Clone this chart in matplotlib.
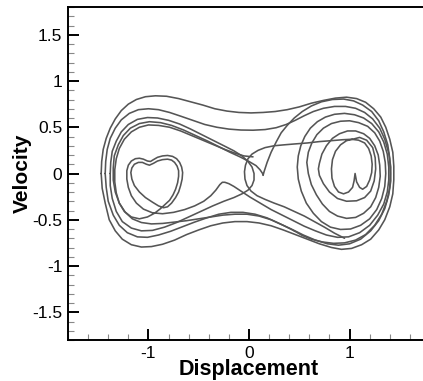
import matplotlib
matplotlib.use('Agg')
import matplotlib.pyplot as plt
from matplotlib.ticker import MultipleLocator, FormatStrFormatter

plt.rcParams['font.family'] = ['Liberation Sans', 'DejaVu Sans']
plt.rcParams['axes.unicode_minus'] = False

# phase trajectory, strand by strand, as (displacement, velocity)
outer = [(-1.47, 0.0), (-1.465, 0.13), (-1.45, 0.26), (-1.42, 0.38), (-1.38, 0.49), (-1.33, 0.59),
         (-1.27, 0.68), (-1.20, 0.75), (-1.12, 0.80), (-1.03, 0.83), (-0.93, 0.84), (-0.82, 0.835),
         (-0.70, 0.81), (-0.58, 0.775), (-0.46, 0.74), (-0.34, 0.70), (-0.22, 0.675), (-0.10, 0.66),
         (0.02, 0.655), (0.14, 0.66), (0.26, 0.67), (0.38, 0.69), (0.50, 0.72), (0.62, 0.76), (0.74, 0.79),
         (0.86, 0.815), (0.97, 0.825), (1.07, 0.81), (1.16, 0.77), (1.24, 0.70), (1.31, 0.61), (1.36, 0.50),
         (1.40, 0.37), (1.43, 0.23), (1.44, 0.08), (1.44, -0.07), (1.43, -0.22), (1.40, -0.36), (1.35, -0.50),
         (1.29, -0.61), (1.21, -0.71), (1.12, -0.77), (1.02, -0.81), (0.92, -0.82), (0.82, -0.80),
         (0.70, -0.76), (0.58, -0.71), (0.46, -0.66), (0.34, -0.61), (0.22, -0.565), (0.10, -0.535),
         (-0.02, -0.52), (-0.14, -0.52), (-0.26, -0.535), (-0.38, -0.565), (-0.50, -0.61), (-0.62, -0.66),
         (-0.74, -0.72), (-0.86, -0.765), (-0.97, -0.79), (-1.07, -0.795), (-1.17, -0.77), (-1.26, -0.71),
         (-1.33, -0.62), (-1.39, -0.50), (-1.43, -0.32), (-1.46, -0.16), (-1.47, 0.0)]

second = [(-1.43, 0.0), (-1.425, 0.13), (-1.41, 0.26), (-1.38, 0.38), (-1.33, 0.49), (-1.27, 0.58),
          (-1.19, 0.65), (-1.10, 0.69), (-1.00, 0.70), (-0.90, 0.69), (-0.79, 0.66), (-0.68, 0.62),
          (-0.56, 0.575), (-0.44, 0.53), (-0.32, 0.50), (-0.20, 0.48), (-0.08, 0.47), (0.04, 0.468),
          (0.16, 0.475), (0.27, 0.495), (0.37, 0.53), (0.46, 0.575), (0.55, 0.625), (0.64, 0.67),
          (0.74, 0.705), (0.85, 0.725), (0.96, 0.725), (1.06, 0.705), (1.15, 0.66), (1.23, 0.59),
          (1.30, 0.49), (1.35, 0.37), (1.39, 0.22), (1.41, 0.07), (1.41, -0.08), (1.39, -0.23),
          (1.35, -0.38), (1.29, -0.51), (1.21, -0.62), (1.11, -0.71), (1.00, -0.76), (0.89, -0.775),
          (0.78, -0.76), (0.66, -0.72), (0.54, -0.665), (0.42, -0.60), (0.30, -0.54), (0.18, -0.48),
          (0.06, -0.44), (-0.06, -0.42), (-0.18, -0.42), (-0.30, -0.44), (-0.42, -0.48), (-0.54, -0.525),
          (-0.66, -0.575), (-0.78, -0.625), (-0.90, -0.665), (-1.01, -0.69), (-1.11, -0.685),
          (-1.21, -0.64), (-1.29, -0.56), (-1.35, -0.45), (-1.40, -0.30), (-1.42, -0.15), (-1.43, 0.0)]

# left loop that turns back at the saddle
fall = [(-1.38, 0.0), (-1.375, 0.12), (-1.36, 0.24), (-1.32, 0.35), (-1.27, 0.45), (-1.20, 0.53),
        (-1.11, 0.585), (-1.01, 0.605), (-0.91, 0.60), (-0.80, 0.575), (-0.69, 0.535), (-0.58, 0.48),
        (-0.47, 0.42), (-0.36, 0.36), (-0.25, 0.30), (-0.15, 0.245), (-0.07, 0.19), (-0.01, 0.13),
        (0.03, 0.07), (0.05, 0.0), (0.05, -0.07), (0.03, -0.13), (-0.01, -0.18), (-0.07, -0.22),
        (-0.15, -0.26), (-0.25, -0.30), (-0.36, -0.35), (-0.48, -0.41), (-0.60, -0.47), (-0.72, -0.53),
        (-0.84, -0.58), (-0.96, -0.615), (-1.07, -0.62), (-1.17, -0.59), (-1.26, -0.52), (-1.32, -0.41),
        (-1.36, -0.27), (-1.38, -0.13), (-1.38, 0.0)]

# left loop, cusp near the saddle, then round the right well
cusp = [(0.45, -0.62), (0.34, -0.56), (0.22, -0.50), (0.10, -0.46), (-0.02, -0.44), (-0.14, -0.44),
        (-0.26, -0.45), (-0.38, -0.47), (-0.50, -0.49), (-0.62, -0.51), (-0.74, -0.525), (-0.86, -0.54),
        (-0.97, -0.545), (-1.07, -0.53), (-1.16, -0.49), (-1.23, -0.42), (-1.29, -0.32), (-1.33, -0.20),
        (-1.35, -0.07), (-1.35, 0.06), (-1.34, 0.19), (-1.30, 0.31), (-1.25, 0.41), (-1.18, 0.49),
        (-1.09, 0.54), (-0.99, 0.56), (-0.88, 0.55), (-0.77, 0.52), (-0.65, 0.47), (-0.53, 0.41),
        (-0.41, 0.35), (-0.30, 0.29), (-0.19, 0.23), (-0.09, 0.18), (0.0, 0.13), (0.07, 0.085),
        (0.11, 0.04), (0.135, 0.0), (0.14, -0.02), (0.15, 0.02), (0.18, 0.12), (0.22, 0.23), (0.27, 0.34),
        (0.32, 0.44), (0.38, 0.52), (0.45, 0.60), (0.53, 0.67), (0.62, 0.73), (0.72, 0.775), (0.83, 0.80),
        (0.94, 0.805), (1.04, 0.785), (1.13, 0.74), (1.22, 0.67), (1.29, 0.57), (1.34, 0.45), (1.38, 0.31),
        (1.40, 0.16), (1.405, 0.0), (1.40, -0.15), (1.37, -0.30), (1.32, -0.44), (1.25, -0.56),
        (1.16, -0.66), (1.06, -0.72), (0.95, -0.75), (0.84, -0.755), (0.73, -0.74), (0.62, -0.71),
        (0.53, -0.67), (0.45, -0.62)]

# lower band -> turning loop at the saddle -> flat run -> right heart
heart_right = [(0.95, -0.70), (0.85, -0.645), (0.75, -0.58), (0.65, -0.52), (0.55, -0.46), (0.45, -0.41),
               (0.35, -0.36), (0.25, -0.32), (0.16, -0.28), (0.08, -0.24), (0.02, -0.19), (-0.02, -0.13),
               (-0.04, -0.06), (-0.045, 0.02), (-0.035, 0.09), (-0.01, 0.16), (0.03, 0.21), (0.09, 0.25),
               (0.16, 0.28), (0.25, 0.30), (0.35, 0.31), (0.46, 0.32), (0.58, 0.33), (0.70, 0.345),
               (0.82, 0.355), (0.93, 0.365), (1.02, 0.37), (1.09, 0.36), (1.15, 0.33), (1.19, 0.27),
               (1.215, 0.19), (1.225, 0.10), (1.22, 0.01), (1.20, -0.07), (1.17, -0.14), (1.13, -0.17),
               (1.10, -0.15), (1.07, -0.09), (1.055, 0.0), (1.045, -0.08), (1.03, -0.15), (0.99, -0.20),
               (0.94, -0.22), (0.89, -0.20), (0.85, -0.14), (0.825, -0.05), (0.82, 0.05), (0.83, 0.15),
               (0.86, 0.24), (0.91, 0.31), (0.97, 0.355), (1.03, 0.37)]

# from the heart: one tight loop, right spiral (three turns), lower band, peak,
# left heart (two turns), one more left loop
spiral = [(1.03, 0.37), (1.10, 0.39), (1.17, 0.36), (1.23, 0.28), (1.255, 0.17), (1.26, 0.05),
          (1.245, -0.08), (1.21, -0.19), (1.15, -0.26), (1.07, -0.295), (0.97, -0.30), (0.88, -0.27),
          (0.80, -0.20), (0.74, -0.11), (0.70, -0.02),
          (0.69, 0.05), (0.70, 0.11), (0.725, 0.21), (0.77, 0.30), (0.83, 0.38), (0.90, 0.43), (0.98, 0.46),
          (1.06, 0.46), (1.14, 0.43), (1.20, 0.38), (1.25, 0.30), (1.285, 0.20), (1.30, 0.09), (1.305, -0.03),
          (1.29, -0.15), (1.26, -0.26), (1.21, -0.36), (1.14, -0.43), (1.06, -0.475), (0.97, -0.485),
          (0.88, -0.46), (0.80, -0.41), (0.73, -0.33), (0.67, -0.23), (0.62, -0.12), (0.59, 0.0),
          (0.575, 0.12), (0.59, 0.23), (0.625, 0.33), (0.675, 0.42), (0.74, 0.49), (0.82, 0.54), (0.91, 0.565),
          (1.00, 0.57), (1.09, 0.55), (1.18, 0.51), (1.25, 0.44), (1.30, 0.35), (1.335, 0.24), (1.355, 0.12),
          (1.36, 0.0), (1.35, -0.14), (1.32, -0.27), (1.27, -0.39), (1.20, -0.49), (1.11, -0.56), (1.01, -0.60),
          (0.91, -0.605), (0.81, -0.58), (0.72, -0.52), (0.64, -0.43), (0.57, -0.32), (0.52, -0.19),
          (0.49, -0.06), (0.48, 0.07), (0.49, 0.19), (0.515, 0.30), (0.555, 0.40), (0.61, 0.49), (0.68, 0.56),
          (0.76, 0.61), (0.85, 0.64), (0.95, 0.65), (1.05, 0.635), (1.14, 0.60), (1.22, 0.54), (1.29, 0.45),
          (1.34, 0.34), (1.375, 0.21), (1.39, 0.07), (1.39, -0.07), (1.375, -0.20), (1.34, -0.33),
          (1.28, -0.45), (1.20, -0.56), (1.10, -0.64), (0.99, -0.685), (0.88, -0.69), (0.77, -0.665),
          (0.66, -0.62), (0.55, -0.57), (0.44, -0.51), (0.33, -0.45), (0.22, -0.39), (0.11, -0.32),
          (0.01, -0.255), (-0.08, -0.19), (-0.15, -0.14), (-0.20, -0.11), (-0.24, -0.095), (-0.265, -0.095),
          (-0.29, -0.12), (-0.33, -0.18), (-0.38, -0.24), (-0.45, -0.30), (-0.54, -0.35), (-0.64, -0.39),
          (-0.75, -0.42), (-0.86, -0.435), (-0.96, -0.425), (-1.05, -0.385), (-1.12, -0.32), (-1.17, -0.24),
          (-1.20, -0.15), (-1.215, -0.06), (-1.215, 0.03), (-1.20, 0.09), (-1.17, 0.135), (-1.13, 0.16),
          (-1.09, 0.165), (-1.05, 0.155), (-1.01, 0.135), (-0.98, 0.13), (-0.95, 0.15), (-0.91, 0.175),
          (-0.86, 0.19), (-0.81, 0.195), (-0.76, 0.185), (-0.72, 0.16), (-0.69, 0.12), (-0.67, 0.07),
          (-0.66, 0.01), (-0.665, -0.06), (-0.68, -0.13), (-0.70, -0.20), (-0.73, -0.26), (-0.77, -0.32),
          (-0.81, -0.36), (-0.85, -0.37), (-0.90, -0.35), (-0.96, -0.31), (-1.03, -0.26), (-1.09, -0.20),
          (-1.14, -0.13), (-1.165, -0.06), (-1.175, 0.01), (-1.165, 0.06), (-1.14, 0.10), (-1.10, 0.12),
          (-1.06, 0.12), (-1.02, 0.10), (-0.99, 0.09), (-0.95, 0.11), (-0.91, 0.135), (-0.86, 0.15),
          (-0.81, 0.155), (-0.77, 0.145), (-0.74, 0.12), (-0.715, 0.08), (-0.70, 0.03), (-0.70, -0.03),
          (-0.71, -0.10), (-0.73, -0.17), (-0.755, -0.23), (-0.79, -0.29), (-0.83, -0.33), (-0.88, -0.38),
          (-0.94, -0.43), (-1.01, -0.47), (-1.09, -0.49), (-1.17, -0.47), (-1.24, -0.41), (-1.29, -0.32),
          (-1.32, -0.21), (-1.335, -0.09), (-1.335, 0.04), (-1.32, 0.16), (-1.29, 0.27), (-1.24, 0.37),
          (-1.17, 0.45), (-1.09, 0.50), (-1.00, 0.525), (-0.90, 0.52), (-0.79, 0.50), (-0.68, 0.46),
          (-0.57, 0.41), (-0.46, 0.36), (-0.35, 0.31), (-0.24, 0.26), (-0.14, 0.22), (-0.05, 0.19),
          (0.04, 0.18)]

strands = [outer, second, fall, cusp, heart_right, spiral]

fig = plt.figure(figsize=(4.23, 3.81), dpi=100)
ax = fig.add_axes([68 / 423, 41 / 381, 362 / 423, 333 / 381])

for pts in strands:
    xs, ys = zip(*pts)
    ax.plot(xs, ys, color='#555555', lw=1.15, solid_joinstyle='round', solid_capstyle='round')

ax.set_xlim(-1.8, 1.8)
ax.set_ylim(-1.8, 1.8)
ax.xaxis.set_major_locator(MultipleLocator(1))
ax.xaxis.set_minor_locator(MultipleLocator(0.2))
ax.yaxis.set_major_locator(MultipleLocator(0.5))
ax.yaxis.set_minor_locator(MultipleLocator(0.1))
ax.xaxis.set_major_formatter(FormatStrFormatter('%g'))
ax.yaxis.set_major_formatter(FormatStrFormatter('%g'))
ax.tick_params(which='major', direction='in', length=8, width=1.4, labelsize=12.5, pad=4,
               top=False, right=False)
ax.tick_params(which='minor', direction='in', length=4, width=0.8, color='#888888', top=False, right=False)
for s in ax.spines.values():
    s.set_linewidth(1.4)
ax.spines['right'].set_visible(False)

ax.set_xlabel('Displacement', fontsize=15.5, fontweight='bold', labelpad=-1)
ax.set_ylabel('Velocity', fontsize=15, fontweight='bold', labelpad=0)

fig.savefig('out.png', dpi=100)
